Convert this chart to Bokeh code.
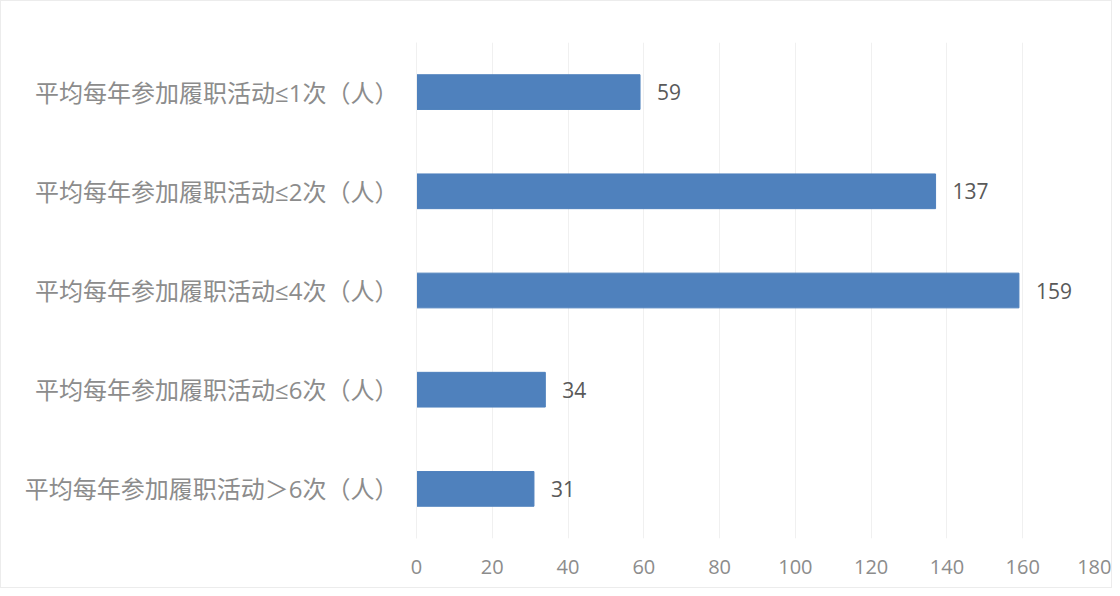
from bokeh.plotting import figure
from bokeh.models import ColumnDataSource, FactorRange, Range1d, FixedTicker, LabelSet
from bokeh.core.properties import value
from bokeh.embed import file_html
from bokeh.resources import INLINE

categories = [
    "平均每年参加履职活动≤1次（人）",
    "平均每年参加履职活动≤2次（人）",
    "平均每年参加履职活动≤4次（人）",
    "平均每年参加履职活动≤6次（人）",
    "平均每年参加履职活动＞6次（人）",
]
values = [59, 137, 159, 34, 31]
x_ticks = [0, 20, 40, 60, 80, 100, 120, 140, 160, 180]

factors = list(reversed(categories))
source = ColumnDataSource(dict(cat=categories, val=values, lbl=[str(v) for v in values]))

p = figure(frame_width=682, frame_height=496, output_backend="svg", toolbar_location=None,
           y_range=FactorRange(factors=factors, range_padding=0),
           x_range=Range1d(0, 180),
           min_border_left=415, min_border_right=13, min_border_top=41, min_border_bottom=49)
p.styles = {"border": "1px solid #ececec"}

p.hbar(y="cat", right="val", left=0, height=0.35, source=source, color="#4f81bd")

labels = LabelSet(x="val", y="cat", text="lbl", source=source, x_offset=17,
                  text_baseline="middle", text_color="#595959", text_font_size="21px",
                  text_font=value("Open Sans"))
p.add_layout(labels)

p.xaxis.ticker = FixedTicker(ticks=x_ticks)
p.xaxis.axis_line_color = None
p.xaxis.major_tick_line_color = None
p.xaxis.minor_tick_line_color = None
p.xaxis.major_label_text_color = "#8c8c8c"
p.xaxis.major_label_text_font_size = "20px"
p.xaxis.major_label_text_font = "Open Sans"
p.xaxis.major_label_standoff = 15

p.yaxis.axis_line_color = "#f0f0f0"
p.yaxis.major_tick_line_color = None
p.yaxis.minor_tick_line_color = None
p.yaxis.major_label_text_color = "#8c8c8c"
p.yaxis.major_label_text_font_size = "24px"
p.yaxis.major_label_text_font = "'Open Sans', 'Noto Sans CJK SC'"
p.yaxis.major_label_standoff = 12

p.xgrid.grid_line_color = "#f0f0f0"
p.xgrid.grid_line_width = 1
p.ygrid.grid_line_color = None
p.outline_line_color = None

open("out.html", "w").write(file_html(p, INLINE))
